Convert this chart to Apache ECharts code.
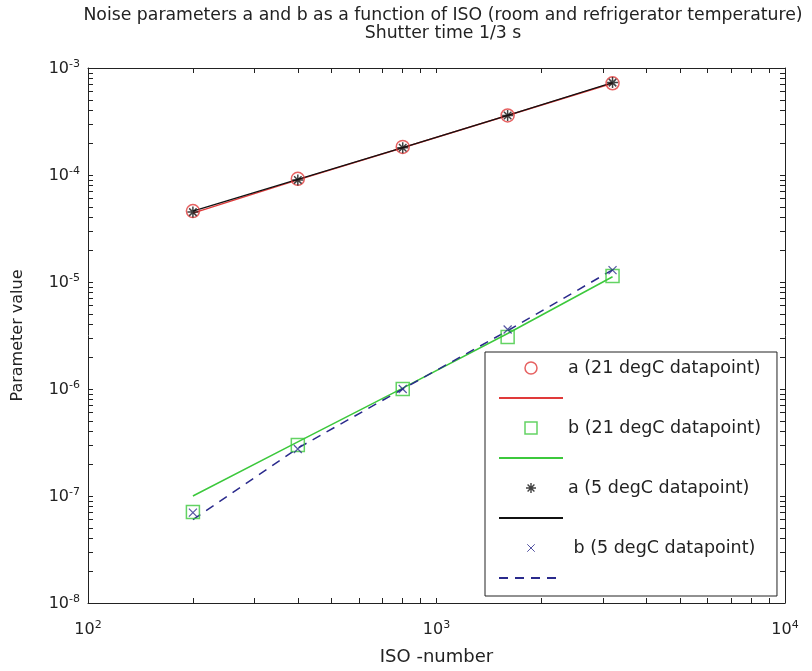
<!DOCTYPE html>
<html><head><meta charset="utf-8">
<script src="https://cdn.jsdelivr.net/npm/echarts@6/dist/echarts.min.js"></script>
<style>html,body{margin:0;padding:0;background:#fff}#c{width:812px;height:671px}</style>
</head><body><div id="c"></div>
<script>
// ---- data ----
const iso = [200, 400, 800, 1600, 3200];
const a21 = [4.6e-5, 9.2e-5, 1.83e-4, 3.6e-4, 7.2e-4];
const b21 = [7.1e-8, 3.0e-7, 1.0e-6, 3.06e-6, 1.14e-5];
const a5  = [4.5e-5, 9.0e-5, 1.8e-4, 3.6e-4, 7.3e-4];
const b5  = [7.0e-8, 2.75e-7, 1.0e-6, 3.6e-6, 1.29e-5];
const fitA21 = [4.4e-5, 9.0e-5, 1.8e-4, 3.6e-4, 7.2e-4];
const fitB21 = [1.0e-7, 3.2e-7, 1.02e-6, 3.3e-6, 1.12e-5];
const fitA5  = [4.6e-5, 9.1e-5, 1.8e-4, 3.6e-4, 7.3e-4];
const fitB5  = [6.0e-8, 2.8e-7, 1.0e-6, 3.5e-6, 1.3e-5];
const xTickLabels = [100, 1000, 10000];
const yTickLabels = [1e-8, 1e-7, 1e-6, 1e-5, 1e-4, 1e-3];
const seriesNames = ['a (21 degC datapoint)', 'b (21 degC datapoint)', 'a (5 degC datapoint)', ' b (5 degC datapoint)'];

function logTicks(lo, hi) {
  const t = [];
  for (let e = lo; e < hi; e++) for (let m = 1; m < 10; m++) t.push(Number((m * Math.pow(10, e)).toPrecision(3)));
  t.push(Math.pow(10, hi));
  return t;
}
const xTicks = logTicks(2, 4);
const yTicks = logTicks(-8, -3);

const FONT = 'DejaVu Sans';
const pair = (ys) => iso.map((x, i) => [x, ys[i]]);
const rich = {
  b: { fontSize: 16, fontFamily: FONT, color: '#222', lineHeight: 18, padding: [7, 0, 0, 0], verticalAlign: 'bottom' },
  e: { fontSize: 11, fontFamily: FONT, color: '#222', lineHeight: 12, verticalAlign: 'top' }
};
const supFmt = (v) => '{b|10}{e|' + Math.round(Math.log10(v)) + '}';

const STAR = 'path://M0,5L10,5M5,0L5,10M1.6,1.6L8.4,8.4M1.6,8.4L8.4,1.6';
const STAR_LEG = 'path://M-1,-1L-1,-1M0,5L10,5M5,0L5,10M1.6,1.6L8.4,8.4M1.6,8.4L8.4,1.6M11,11L11,11';
const CROSS = 'path://M0,0L10,10M0,10L10,0';
const CROSS_LEG = 'path://M-3,-3L-3,-3M0,0L10,10M0,10L10,0M13,13L13,13';
const SQUARE = 'path://M0,0L10,0L10,10L0,10Z';
const cRed = '#e03a3a', cGreen = '#3cc83c', cBlack = '#111', cBlue = '#2a2a8c';

const axisBase = (pos) => ({
  type: 'log', logBase: 10, position: pos,
  axisLine: { show: true, onZero: false, lineStyle: { color: '#222', width: 1 } },
  splitLine: { show: false }, minorTick: { show: false }
});
const hiddenDot = { color: 'transparent', borderColor: 'transparent', borderWidth: 0 };

const chart = echarts.init(document.getElementById('c'));
chart.setOption({
  animation: false,
  backgroundColor: '#fff',
  title: {
    text: 'Noise parameters a and b as a function of ISO (room and refrigerator temperature)\nShutter time 1/3 s',
    left: 438, top: 2, textAlign: 'center',
    textStyle: { fontSize: 17.3, fontWeight: 'normal', fontFamily: FONT, color: '#222', lineHeight: 18 }
  },
  grid: { left: 88, right: 27, top: 68, bottom: 66 },
  xAxis: [
    Object.assign(axisBase('bottom'), {
      min: 100, max: 10000,
      name: 'ISO -number', nameLocation: 'middle', nameGap: 45,
      nameTextStyle: { fontSize: 18, fontFamily: FONT, color: '#222' },
      axisTick: { show: true, inside: true, length: 5, customValues: xTicks, lineStyle: { color: '#222' } },
      axisLabel: { show: true, customValues: xTickLabels, margin: 17, formatter: supFmt, rich: rich }
    }),
    Object.assign(axisBase('top'), {
      min: 100, max: 10000,
      axisTick: { show: true, inside: true, length: 5, customValues: xTicks, lineStyle: { color: '#222' } },
      axisLabel: { show: false }
    })
  ],
  yAxis: [
    Object.assign(axisBase('left'), {
      min: 1e-8, max: 1e-3,
      name: 'Parameter value', nameLocation: 'middle', nameGap: 62,
      nameTextStyle: { fontSize: 16, fontFamily: FONT, color: '#222' },
      axisTick: { show: true, inside: true, length: 5, customValues: yTicks, lineStyle: { color: '#222' } },
      axisLabel: { show: true, customValues: yTickLabels, margin: 8, formatter: supFmt, rich: rich }
    }),
    Object.assign(axisBase('right'), {
      min: 1e-8, max: 1e-3,
      axisTick: { show: true, inside: true, length: 5, customValues: yTicks, lineStyle: { color: '#222' } },
      axisLabel: { show: false }
    })
  ],
  legend: {
    orient: 'vertical', left: 485, top: 352,
    itemWidth: 64, itemHeight: 12, itemGap: 10,
    padding: [6, 16, 8, 13],
    borderColor: '#222', borderWidth: 1, backgroundColor: '#fff', borderRadius: 0,
    textStyle: { fontSize: 17.5, fontFamily: FONT, color: '#222', lineHeight: 20 },
    formatter: (n) => n.startsWith('fit') ? ' ' : n,
    data: [
      { name: seriesNames[0], icon: 'circle', itemStyle: { color: 'transparent', borderColor: cRed, borderWidth: 1.5 } },
      { name: 'fitA21', itemStyle: hiddenDot },
      { name: seriesNames[1], icon: SQUARE, itemStyle: { color: 'transparent', borderColor: cGreen, borderWidth: 1.5 } },
      { name: 'fitB21', itemStyle: hiddenDot },
      { name: seriesNames[2], icon: STAR_LEG, itemStyle: { color: 'none', borderColor: cBlack, borderWidth: 1.4 } },
      { name: 'fitA5', itemStyle: hiddenDot },
      { name: seriesNames[3], icon: CROSS_LEG, itemStyle: { color: 'none', borderColor: cBlue, borderWidth: 1 } },
      { name: 'fitB5', itemStyle: hiddenDot }
    ]
  },
  series: [
    { name: seriesNames[0], type: 'scatter', data: pair(a21), symbol: 'circle', symbolSize: 13,
      itemStyle: { color: 'transparent', borderColor: cRed, borderWidth: 1.5 }, z: 3 },
    { name: 'fitA21', type: 'line', data: pair(fitA21), showSymbol: false, symbol: 'none',
      lineStyle: { color: cRed, width: 1.5 }, itemStyle: { color: cRed } },
    { name: seriesNames[1], type: 'scatter', data: pair(b21), symbol: 'rect', symbolSize: 13,
      itemStyle: { color: 'transparent', borderColor: cGreen, borderWidth: 1.5 }, z: 3 },
    { name: 'fitB21', type: 'line', data: pair(fitB21), showSymbol: false, symbol: 'none',
      lineStyle: { color: cGreen, width: 1.5 }, itemStyle: { color: cGreen } },
    { name: seriesNames[2], type: 'scatter', data: pair(a5), symbol: STAR, symbolSize: 11,
      itemStyle: { color: 'none', borderColor: cBlack, borderWidth: 1.5 }, z: 4 },
    { name: 'fitA5', type: 'line', data: pair(fitA5), showSymbol: false, symbol: 'none',
      lineStyle: { color: cBlack, width: 1.3 }, itemStyle: { color: cBlack } },
    { name: seriesNames[3], type: 'scatter', data: pair(b5), symbol: CROSS, symbolSize: 8,
      itemStyle: { color: 'none', borderColor: cBlue, borderWidth: 1.2 }, z: 4 },
    { name: 'fitB5', type: 'line', data: pair(fitB5), showSymbol: false, symbol: 'none',
      lineStyle: { color: cBlue, width: 1.5, type: [9, 7] }, itemStyle: { color: cBlue } }
  ]
});
</script></body></html>
